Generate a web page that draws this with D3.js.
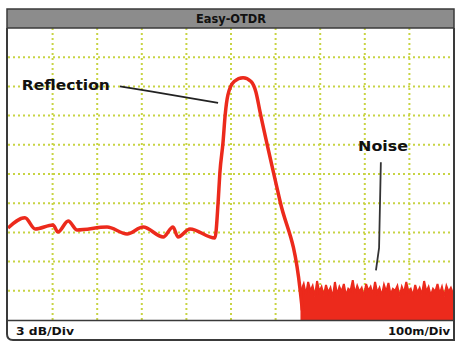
<!doctype html>
<html lang="en">
  <head>
    <meta charset="utf-8">
    <title>Easy-OTDR</title>
    <style>
      body { margin: 0; background: #fff; }
      svg { display: block; }
      .lbl { font-family: "DejaVu Sans Condensed", "DejaVu Sans", sans-serif; fill: #111; font-weight: bold; }
    </style>
  </head>
  <body>
    <div id="chart"></div>
    <script src="https://d3js.org/d3.v7.min.js"></script>
    <script type="text/javascript">
      const w = 456;
      const h = 342;

      // trace: distance (m) and level (dB above bottom of screen)
      const traceM  = [0, 38, 61, 101, 112, 135, 155, 222, 267, 303, 348, 370, 381, 408, 464,
                       471, 475, 482, 487, 493, 507, 527, 545, 556, 565, 610, 655, 660];
      const traceDb = [9.45, 10.5, 9.35, 9.76, 9.04, 10.17, 9.25, 9.55, 8.84, 9.55, 8.53, 9.55, 8.53, 9.35, 8.42,
                       12.0, 15.1, 18.2, 21.1, 23.1, 24.5, 24.9, 24.5, 23.4, 21.4, 12.2, 3.1, 1.0];

      // noise floor after the end of the fibre
      const noiseM  = [658, 663, 668, 673, 678, 683, 688, 693, 698, 703, 708, 713, 718, 723, 728, 733, 738, 743, 748,
                       753, 758, 763, 768, 773, 778, 783, 788, 793, 798, 803, 808, 813, 818, 823, 828, 833, 838, 843, 848,
                       853, 858, 863, 868, 873, 878, 883, 888, 893, 898, 903, 908, 913, 918, 923, 928, 933, 938, 943, 948,
                       953, 958, 963, 968, 973, 978, 983, 988, 993, 998];
      const noiseDb = [3.1, 3.7, 2.6, 3.9, 3.0, 3.5, 2.4, 4.0, 2.9, 3.4, 2.5, 3.6, 2.8, 3.3, 2.3, 3.9, 2.6, 3.4, 2.9,
                       3.7, 2.5, 3.2, 3.0, 4.1, 2.7, 3.5, 2.9, 3.3, 2.4, 3.7, 3.0, 3.4, 2.6, 3.9, 2.8, 3.3, 2.5, 3.6, 2.9,
                       3.8, 2.6, 3.2, 3.0, 3.5, 2.4, 3.4, 2.8, 3.9, 2.9, 3.2, 2.5, 3.6, 2.8, 3.3, 2.6, 4.0, 2.9, 3.4, 2.5,
                       3.2, 2.9, 3.7, 2.7, 3.4, 2.4, 3.5, 2.9, 3.3, 2.7];

      // grid: 100 m/div, 3 dB/div
      const xGrid = [100, 200, 300, 400, 500, 600, 700, 800, 900];
      const yGrid = [3, 6, 9, 12, 15, 18, 21, 24, 27];

      const title = "Easy-OTDR";
      const yUnit = "3 dB/Div";
      const xUnit = "100m/Div";

      const svg = d3.select('#chart')
                    .append('svg')
                    .attr("width", w)
                    .attr("height", h);

      const x = d3.scaleLinear().domain([0, 1000]).range([8, 454]);
      const y = d3.scaleLinear().domain([0, 30]).range([320, 28]);

      svg.append('clipPath').attr('id', 'plotClip')
        .append('rect')
        .attr('x', 8).attr('y', 28)
        .attr('width', 446).attr('height', 292);

      // grid
      const grid = svg.append('g')
        .attr('stroke', '#c8d444')
        .attr('stroke-width', 2)
        .attr('stroke-dasharray', '2,3');

      grid.selectAll('.vg')
        .data(xGrid)
        .enter()
        .append('line')
        .attr('class', 'vg')
        .attr('x1', d => x(d)).attr('x2', d => x(d))
        .attr('y1', y(30)).attr('y2', y(0));

      grid.selectAll('.hg')
        .data(yGrid)
        .enter()
        .append('line')
        .attr('class', 'hg')
        .attr('x1', x(0)).attr('x2', x(1000))
        .attr('y1', d => y(d)).attr('y2', d => y(d));

      // trace
      const plot = svg.append('g').attr('clip-path', 'url(#plotClip)');
      const red = '#ec2a1c';

      const noise = noiseM.map((m, i) => [m, noiseDb[i]]);
      plot.append('path')
        .datum(noise)
        .attr('fill', red)
        .attr('stroke', red)
        .attr('stroke-width', 2)
        .attr('d', d3.area().x(d => x(d[0])).y0(y(0)).y1(d => y(d[1])));

      const trace = traceM.map((m, i) => [m, traceDb[i]]);
      plot.append('path')
        .datum(trace)
        .attr('fill', 'none')
        .attr('stroke', red)
        .attr('stroke-width', 3.5)
        .attr('stroke-linejoin', 'round')
        .attr('d', d3.line().x(d => x(d[0])).y(d => y(d[1])).curve(d3.curveMonotoneX));

      // annotations
      svg.append('path')
        .attr('fill', 'none')
        .attr('stroke', '#222')
        .attr('stroke-width', 1.8)
        .attr('d', d3.line()([[x(251), y(24.0)], [x(320), y(23.5)], [x(471), y(22.3)]]));

      svg.append('text')
        .attr('class', 'lbl')
        .attr('x', x(31)).attr('y', y(24.1))
        .attr('dy', '0.36em')
        .attr('font-size', 14)
        .attr('textLength', 88)
        .attr('lengthAdjust', 'spacingAndGlyphs')
        .text('Reflection');

      svg.append('path')
        .attr('fill', 'none')
        .attr('stroke', '#333')
        .attr('stroke-width', 1.8)
        .attr('d', d3.line()([[x(836), y(16.2)], [x(832), y(7.4)], [x(825), y(5.1)]]));

      svg.append('text')
        .attr('class', 'lbl')
        .attr('x', x(785)).attr('y', y(17.9))
        .attr('dy', '0.36em')
        .attr('font-size', 14)
        .attr('textLength', 50)
        .attr('lengthAdjust', 'spacingAndGlyphs')
        .text('Noise');

      // frame
      svg.append('rect')
        .attr('x', 7).attr('y', 9)
        .attr('width', 447).attr('height', 19)
        .attr('fill', '#8c8c8c')
        .attr('stroke', '#3a3a3a')
        .attr('stroke-width', 1.5);

      svg.append('text')
        .attr('class', 'lbl')
        .attr('x', 231).attr('y', 18.5)
        .attr('dy', '0.36em')
        .attr('text-anchor', 'middle')
        .attr('font-size', 12)
        .attr('textLength', 70)
        .attr('lengthAdjust', 'spacingAndGlyphs')
        .text(title);

      svg.append('path')
        .attr('fill', 'none')
        .attr('stroke', '#3a3a3a')
        .attr('stroke-width', 2)
        .attr('d', 'M7,28 V334 Q7,340 13,340 H454 V28');

      svg.append('line')
        .attr('x1', 7).attr('x2', 454)
        .attr('y1', 320.5).attr('y2', 320.5)
        .attr('stroke', '#3a3a3a')
        .attr('stroke-width', 1.5);

      svg.append('text')
        .attr('class', 'lbl')
        .attr('x', 16).attr('y', 331)
        .attr('dy', '0.36em')
        .attr('font-size', 11)
        .attr('textLength', 58)
        .attr('lengthAdjust', 'spacingAndGlyphs')
        .text(yUnit);

      svg.append('text')
        .attr('class', 'lbl')
        .attr('x', 450).attr('y', 331)
        .attr('dy', '0.36em')
        .attr('text-anchor', 'end')
        .attr('font-size', 11)
        .attr('textLength', 62)
        .attr('lengthAdjust', 'spacingAndGlyphs')
        .text(xUnit);
    </script>
  </body>
</html>
